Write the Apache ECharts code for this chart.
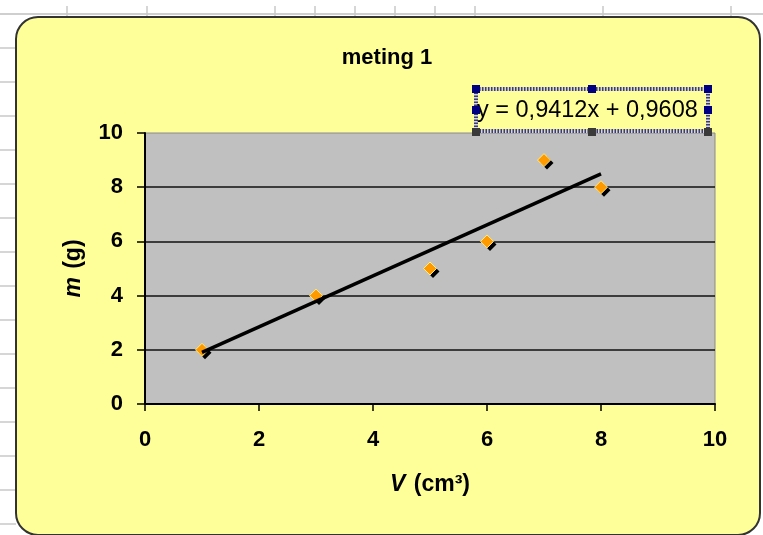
<!DOCTYPE html>
<html><head><meta charset="utf-8">
<script src="https://cdn.jsdelivr.net/npm/echarts@6/dist/echarts.min.js"></script>
<style>html,body{margin:0;padding:0;background:#fff}#c{width:763px;height:535px}</style>
</head><body><div id="c"></div>
<script>
// ---- data ----
const volumes = [1, 3, 5, 6, 7, 8];
const masses = [2, 4, 5, 6, 9, 8];
const trendSlope = 0.9412;
const trendIntercept = 0.9608;
const trendRange = [1, 8];
const xTicks = [0, 2, 4, 6, 8, 10];
const yTicks = [0, 2, 4, 6, 8, 10];
const titleText = 'meting 1';
const equationText = 'y = 0,9412x + 0,9608';

const FONT = 'Arial, "Liberation Sans", sans-serif';
const points = volumes.map((v, i) => [v, masses[i]]);
const trend = trendRange.map(x => [x, trendSlope * x + trendIntercept]);

const gfx = [];
// spreadsheet background lines
gfx.push({type:'line', z:-100, shape:{x1:0,y1:14,x2:763,y2:14}, style:{stroke:'#cfcfcf', lineWidth:2}});
[67,147,275,315,355,395,435,475,603,731].forEach(x => gfx.push({type:'line', z:-100, shape:{x1:x,y1:6,x2:x,y2:17}, style:{stroke:'#c8c8c8', lineWidth:1.5}}));
for (let y = 48; y < 535; y += 34) gfx.push({type:'line', z:-100, shape:{x1:0,y1:y,x2:16,y2:y}, style:{stroke:'#c8c8c8', lineWidth:1.5}});
// chart area
gfx.push({type:'rect', z:-90, shape:{x:16,y:17,width:744,height:518,r:22}, style:{fill:'#FFFF99', stroke:'#333', lineWidth:2}});
// title
gfx.push({type:'text', z:50, style:{x:387, y:58, text:titleText, font:'bold 22px ' + FONT, fill:'#000', textAlign:'center', textVerticalAlign:'middle'}});
// equation box (hatched selection border)
gfx.push({type:'rect', z:60, shape:{x:476,y:89,width:232,height:42}, style:{fill:'#FFFF99', stroke:'#d8d8d8', lineWidth:4}});
gfx.push({type:'rect', z:60, shape:{x:476,y:89,width:232,height:42}, style:{fill:null, stroke:'#3c3c70', lineWidth:4, lineDash:[1.5,1.5]}});
gfx.push({type:'text', z:61, style:{x:477, y:111, text:equationText, font:'23.5px ' + FONT, fill:'#000', textAlign:'left', textVerticalAlign:'middle'}});
[[476,89,'#000080'],[592,89,'#000080'],[708,89,'#000080'],[476,110,'#000080'],[708,110,'#000080'],[476,132,'#3a3a3a'],[592,132,'#3a3a3a'],[708,132,'#3a3a3a']].forEach(h => gfx.push({type:'rect', z:62, shape:{x:h[0]-4,y:h[1]-4,width:8,height:8}, style:{fill:h[2]}}));

const chart = echarts.init(document.getElementById('c'));
chart.setOption({
  backgroundColor: '#ffffff',
  animation: false,
  graphic: {elements: gfx},
  grid: {left:145, top:133, right:48, bottom:131, show:true, backgroundColor:'#C0C0C0', borderColor:'#8a8a8a', borderWidth:1, containLabel:false},
  xAxis: {
    type:'value', min:xTicks[0], max:xTicks[xTicks.length-1], interval:xTicks[1]-xTicks[0],
    axisLine:{show:true, onZero:false, lineStyle:{color:'#000', width:2}},
    axisTick:{show:true, inside:false, length:7, lineStyle:{color:'#000', width:1.5}},
    splitLine:{show:false},
    axisLabel:{margin:25, color:'#000', fontFamily:FONT, fontWeight:'bold', fontSize:22},
    name:'{i|V} {b|(cm³)}', nameLocation:'middle', nameGap:69,
    nameTextStyle:{rich:{i:{fontFamily:FONT, fontWeight:'bold', fontStyle:'italic', fontSize:23, color:'#000'}, b:{fontFamily:FONT, fontWeight:'bold', fontSize:23, color:'#000', padding:[0,0,0,5]}}}
  },
  yAxis: {
    type:'value', min:yTicks[0], max:yTicks[yTicks.length-1], interval:yTicks[1]-yTicks[0],
    axisLine:{show:true, onZero:false, lineStyle:{color:'#000', width:2}},
    axisTick:{show:true, inside:false, length:8, lineStyle:{color:'#000', width:1.5}},
    splitLine:{show:true, showMinLine:false, showMaxLine:false, lineStyle:{color:'#111', width:1.6}},
    axisLabel:{margin:22, color:'#000', fontFamily:FONT, fontWeight:'bold', fontSize:22},
    name:'{i|m} {b|(g)}', nameLocation:'middle', nameGap:60, nameRotate:90,
    nameTextStyle:{rich:{i:{fontFamily:FONT, fontWeight:'bold', fontStyle:'italic', fontSize:23, color:'#000'}, b:{fontFamily:FONT, fontWeight:'bold', fontSize:23, color:'#000', padding:[0,0,0,5]}}}
  },
  series: [
    {type:'scatter', data:points, symbol:'diamond', symbolSize:13, symbolOffset:[3,3], z:2, silent:true,
     itemStyle:{color:'#000', opacity:1}},
    {type:'scatter', data:points, symbol:'diamond', symbolSize:13, z:3,
     itemStyle:{color:'#FF9900', borderColor:'#FFEE88', borderWidth:1, opacity:1}},
    {type:'line', data:trend, symbol:'none', z:4, lineStyle:{color:'#000', width:3.5}}
  ]
});
</script></body></html>
